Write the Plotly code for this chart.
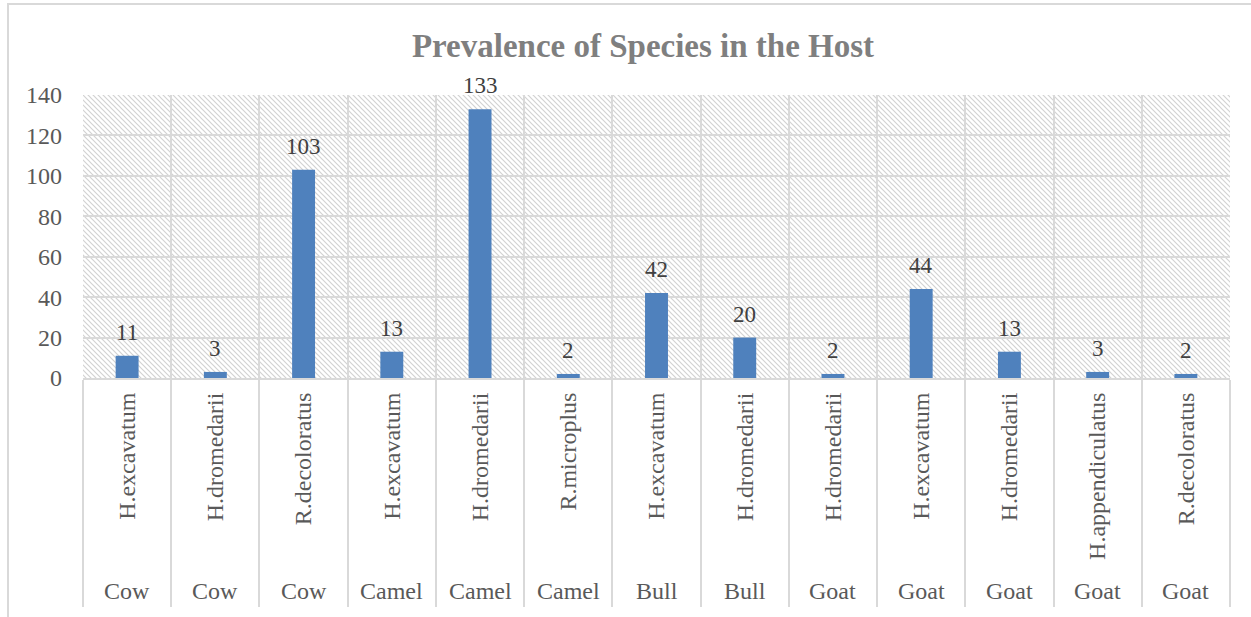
import base64
import plotly.graph_objects as go

hosts = ["Cow", "Cow", "Cow", "Camel", "Camel", "Camel", "Bull", "Bull",
         "Goat", "Goat", "Goat", "Goat", "Goat"]
species = ["H.excavatum", "H.dromedarii", "R.decoloratus", "H.excavatum",
           "H.dromedarii", "R.microplus", "H.excavatum", "H.dromedarii",
           "H.dromedarii", "H.excavatum", "H.dromedarii", "H.appendiculatus",
           "R.decoloratus"]
counts = [11, 3, 103, 13, 133, 2, 42, 20, 2, 44, 13, 3, 2]
y_ticks = [0, 20, 40, 60, 80, 100, 120, 140]

W, H = 1251, 617
ML, MR, MT, MB = 83, 21, 95, 239
PW, PH = W - ML - MR, H - MT - MB

FONT = "Liberation Serif, Times New Roman, serif"
GRID = "#d9d9d9"

idx = list(range(len(counts)))
bounds = [i - 0.5 for i in idx] + [idx[-1] + 0.5]

# hatched plot-area background (light downward diagonal)
svg = (
    f'<svg xmlns="http://www.w3.org/2000/svg" width="{PW}" height="{PH}" '
    f'viewBox="0 0 {PW} {PH}" preserveAspectRatio="none">'
    '<defs><pattern id="p" width="5" height="5" patternUnits="userSpaceOnUse">'
    '<path d="M-1,-1 L6,6 M-1,4 L1,6 M4,-1 L6,1" stroke="#d2d2d2" stroke-width="1.2"/>'
    '</pattern></defs>'
    '<rect width="100%" height="100%" fill="white"/>'
    '<rect width="100%" height="100%" fill="url(#p)"/></svg>'
)
src = "data:image/svg+xml;base64," + base64.b64encode(svg.encode()).decode()

fig = go.Figure()
fig.add_trace(go.Bar(
    x=idx, y=counts, width=0.26,
    marker=dict(color="#4f81bd", line=dict(width=0)),
    hoverinfo="skip",
))

annotations = [
    dict(x=i, y=c, xref="x", yref="y", text=str(c), showarrow=False,
         yanchor="bottom", yshift=9,
         font=dict(family=FONT, size=23, color="#404040"))
    for i, c in zip(idx, counts)
]
annotations += [
    dict(x=i, y=-213 / PH, xref="x", yref="paper",
         text=h, showarrow=False, yanchor="middle",
         font=dict(family=FONT, size=24, color="#595959"))
    for i, h in zip(idx, hosts)
]

fig.update_layout(
    width=W, height=H,
    margin=dict(l=ML, r=MR, t=MT, b=MB),
    paper_bgcolor="white", plot_bgcolor="rgba(0,0,0,0)",
    showlegend=False,
    title=dict(text="<b>Prevalence of Species in the Host</b>",
               x=643 / W, xref="container", xanchor="center",
               y=1 - 45 / H, yref="container", yanchor="middle",
               font=dict(family=FONT, size=33, color="#7f7f7f")),
    xaxis=dict(range=[-0.5, idx[-1] + 0.5], tickmode="array", tickvals=idx,
               ticktext=species, tickangle=-90, ticks="", showgrid=False,
               zeroline=False, showline=True, linecolor=GRID, linewidth=2,
               ticklabelstandoff=3,
               tickfont=dict(family=FONT, size=24, color="#595959"),
               minor=dict(tickmode="array", tickvals=bounds, ticks="outside",
                          ticklen=227, tickcolor=GRID, tickwidth=2,
                          showgrid=True, gridcolor=GRID, gridwidth=2)),
    yaxis=dict(range=[0, 140], tickmode="array", tickvals=y_ticks,
               showgrid=True, gridcolor=GRID, gridwidth=2, zeroline=False,
               showline=False, ticks="", ticklabelstandoff=20,
               tickfont=dict(family=FONT, size=24, color="#595959")),
    annotations=annotations,
    images=[dict(source=src, xref="paper", yref="paper", x=0, y=1,
                 sizex=1, sizey=1, sizing="stretch", xanchor="left",
                 yanchor="top", layer="below")],
    shapes=[dict(type="rect", xref="paper", yref="paper",
                 x0=(8 - ML) / PW, x1=(W + 30 - ML) / PW,
                 y0=-(H + 30 - MT - PH) / PH, y1=(MT - 4) / PH + 1,
                 line=dict(color=GRID, width=2), fillcolor="rgba(0,0,0,0)",
                 layer="below")],
)

fig.write_html("out.html", config={"displayModeBar": False},
               post_script="document.body.style.margin='0px';"
                           "document.documentElement.style.overflow='hidden';")
